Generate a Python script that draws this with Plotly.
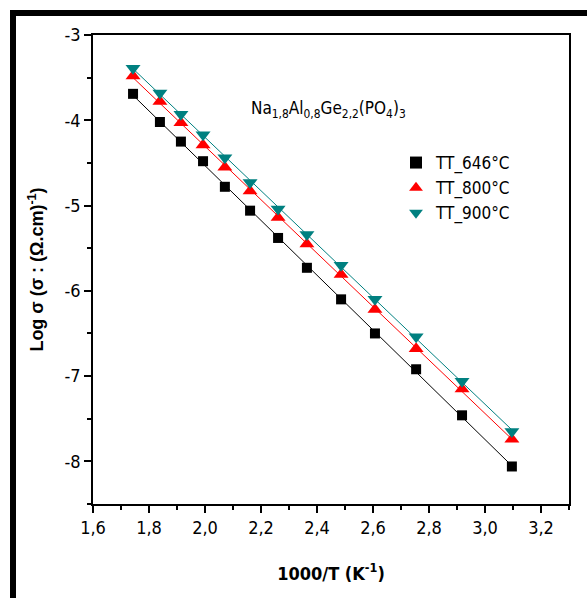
import numpy as np
import plotly.graph_objects as go

x_646 = [1.743, 1.839, 1.914, 1.993, 2.071, 2.161, 2.261, 2.364, 2.486, 2.607, 2.754, 2.918, 3.096]
y_646 = [-3.69, -4.02, -4.25, -4.48, -4.78, -5.06, -5.38, -5.73, -6.10, -6.50, -6.92, -7.46, -8.06]
x_800 = [1.743, 1.839, 1.914, 1.993, 2.071, 2.161, 2.261, 2.364, 2.486, 2.607, 2.754, 2.918, 3.096]
y_800 = [-3.48, -3.78, -4.03, -4.29, -4.55, -4.83, -5.14, -5.45, -5.81, -6.22, -6.68, -7.15, -7.74]
x_900 = [1.743, 1.839, 1.914, 1.993, 2.071, 2.161, 2.261, 2.364, 2.486, 2.607, 2.754, 2.918, 3.096]
y_900 = [-3.39, -3.68, -3.93, -4.17, -4.44, -4.73, -5.04, -5.34, -5.70, -6.10, -6.54, -7.06, -7.65]

x_ticks = [1.6, 1.8, 2.0, 2.2, 2.4, 2.6, 2.8, 3.0, 3.2]
x_ticklabels = ["1,6", "1,8", "2,0", "2,2", "2,4", "2,6", "2,8", "3,0", "3,2"]
y_ticks = [-8, -7, -6, -5, -4, -3]
y_ticklabels = ["-8", "-7", "-6", "-5", "-4", "-3"]

names = ["TT_646°C", "TT_800°C", "TT_900°C"]
colors = ["#000000", "#ff0000", "#008080"]
symbols = ["square", "triangle-up", "triangle-down"]
sizes = [10, 13, 13]

FONT = "DejaVu Sans Condensed, Liberation Sans Narrow, Arial Narrow, Liberation Sans, sans-serif"

fig = go.Figure()
series = [(x_646, y_646), (x_800, y_800), (x_900, y_900)]
for (xs, ys), n, c in zip(series, names, colors):
    xa = np.array(xs); ya = np.array(ys)
    k, b = np.polyfit(xa, ya, 1)
    xf = np.array([xa.min(), xa.max()])
    fig.add_trace(go.Scatter(x=xf, y=k * xf + b, mode="lines",
                             line=dict(color=c, width=1), showlegend=False,
                             hoverinfo="skip"))
for (xs, ys), n, c, s, sz in zip(series, names, colors, symbols, sizes):
    fig.add_trace(go.Scatter(x=xs, y=ys, mode="markers", name=n,
                             marker=dict(symbol=s, color=c, size=sz, line=dict(width=0))))

axis_common = dict(showline=True, linecolor="black", linewidth=1.5, mirror=True,
                   ticks="outside", tickcolor="black", tickwidth=1.5, ticklen=7,
                   showgrid=False, zeroline=False,
                   tickfont=dict(family=FONT, size=18, color="black"))

fig.update_xaxes(range=[1.6, 3.3], tickvals=x_ticks, ticktext=x_ticklabels,
                 minor=dict(dtick=0.1, tick0=1.6, ticks="outside", ticklen=4, tickwidth=1.5, tickcolor="black"),
                 title=dict(text="<b>1000/T (K<sup>-1</sup>)</b>", font=dict(family=FONT, size=18, color="black"), standoff=30),
                 **axis_common)
fig.update_yaxes(range=[-8.5, -3], tickvals=y_ticks, ticktext=y_ticklabels,
                 minor=dict(dtick=0.5, tick0=-3, ticks="outside", ticklen=4, tickwidth=1.5, tickcolor="black"),
                 title=dict(text="<b>Log σ (σ : (Ω.cm)<sup>-1</sup>)</b>", font=dict(family="Liberation Sans, Arial, sans-serif", size=18, color="black"), standoff=16),
                 **axis_common)

pw = 587 - 93 - 18
ph = 598 - 35 - 94

fig.add_annotation(x=(328 - 93) / pw, y=1 - (96 - 35) / ph, xref="paper", yref="paper", showarrow=False,
                   text="Na<sub>1,8</sub>Al<sub>0,8</sub>Ge<sub>2,2</sub>(PO<sub>4</sub>)<sub>3</sub>",
                   font=dict(family=FONT, size=17, color="black"))

# black frame lines (top and left edges of the image)
fig.add_shape(type="rect", xref="paper", yref="paper",
              x0=(10 - 93) / pw, x1=(16 - 93) / pw, y0=-94 / ph, y1=1 + (35 - 10) / ph,
              fillcolor="black", line=dict(width=0), layer="above")
fig.add_shape(type="rect", xref="paper", yref="paper",
              x0=(10 - 93) / pw, x1=(587 - 93) / pw, y0=1 + (35 - 16) / ph, y1=1 + (35 - 10) / ph,
              fillcolor="black", line=dict(width=0), layer="above")

fig.update_layout(
    width=587, height=598,
    margin=dict(l=93, r=18, t=35, b=94),
    plot_bgcolor="white", paper_bgcolor="white",
    legend=dict(x=(396 - 93) / pw, y=1 - (145 - 35) / ph, xanchor="left", yanchor="top",
                font=dict(family=FONT, size=17, color="black"),
                bgcolor="rgba(0,0,0,0)", itemsizing="constant", tracegroupgap=0),
    showlegend=True,
)

fig.write_html("out.html")
